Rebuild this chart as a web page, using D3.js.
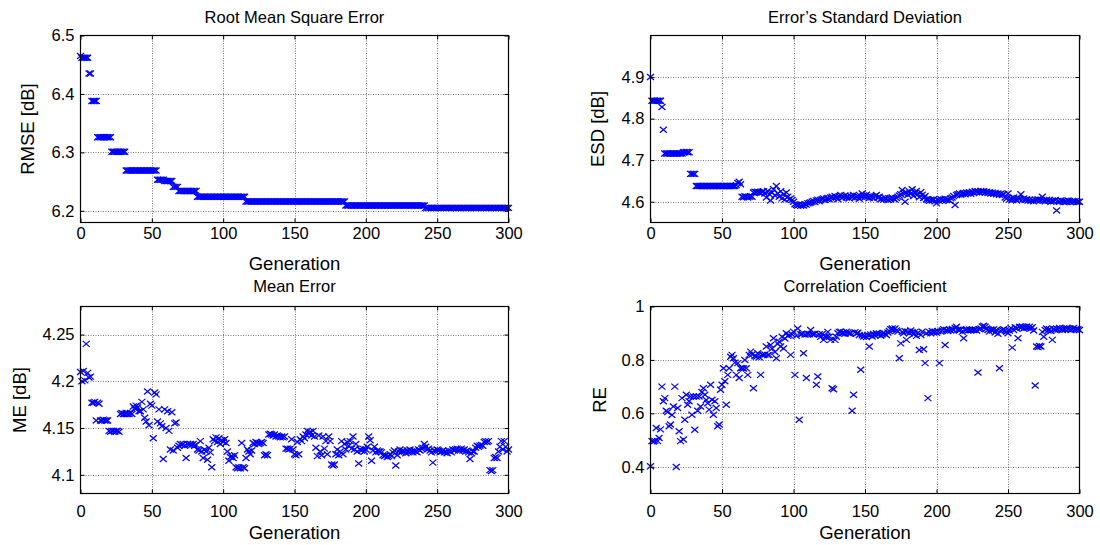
<!DOCTYPE html>
<html><head><meta charset="utf-8">
<script src="https://cdn.jsdelivr.net/npm/d3@7"></script>
<style>
body{margin:0;background:#fff;}
svg text{font-family:"Liberation Sans", Arial, Helvetica, sans-serif;fill:#000;}
</style></head><body>
<svg id="chart" width="1100" height="545"></svg>
<script>
// ---------------- data ----------------
const generations = d3.range(0, 301);
const xTicks = [0, 50, 100, 150, 200, 250, 300];
const rmseTicks = [6.2, 6.3, 6.4, 6.5];
const esdTicks = [4.6, 4.7, 4.8, 4.9];
const meTicks = [4.1, 4.15, 4.2, 4.25];
const reTicks = [0.4, 0.6, 0.8, 1];
const titles = ["Root Mean Square Error", "Error\u2019s Standard Deviation", "Mean Error", "Correlation Coefficient"];
const yLabels = ["RMSE [dB]", "ESD [dB]", "ME [dB]", "RE"];
const xLabel = "Generation";

const rmse = [
6.465,6.462,6.462,6.462,6.462,6.462,6.435,6.435,6.388,6.388,
6.388,6.388,6.326,6.326,6.326,6.326,6.326,6.326,6.326,6.326,
6.326,6.326,6.301,6.301,6.301,6.301,6.301,6.301,6.301,6.301,
6.301,6.301,6.269,6.269,6.269,6.269,6.269,6.269,6.269,6.269,
6.269,6.269,6.269,6.269,6.269,6.269,6.269,6.269,6.269,6.269,
6.269,6.269,6.269,6.269,6.253,6.253,6.253,6.253,6.253,6.251,
6.251,6.251,6.251,6.251,6.251,6.241,6.241,6.241,6.241,6.234,
6.234,6.234,6.234,6.234,6.234,6.234,6.234,6.234,6.234,6.234,
6.234,6.234,6.224,6.224,6.224,6.224,6.224,6.224,6.224,6.224,
6.224,6.224,6.224,6.224,6.224,6.224,6.224,6.224,6.224,6.224,
6.224,6.224,6.224,6.224,6.224,6.224,6.224,6.224,6.224,6.224,
6.224,6.224,6.224,6.224,6.224,6.224,6.216,6.216,6.216,6.216,
6.216,6.216,6.216,6.216,6.216,6.216,6.216,6.216,6.216,6.216,
6.216,6.216,6.216,6.216,6.216,6.216,6.216,6.216,6.216,6.216,
6.216,6.216,6.216,6.216,6.216,6.216,6.216,6.216,6.216,6.216,
6.216,6.216,6.216,6.216,6.216,6.216,6.216,6.216,6.216,6.216,
6.216,6.216,6.216,6.216,6.216,6.216,6.216,6.216,6.216,6.216,
6.216,6.216,6.216,6.216,6.216,6.216,6.216,6.216,6.216,6.216,
6.216,6.216,6.216,6.216,6.216,6.216,6.209,6.209,6.209,6.209,
6.209,6.209,6.209,6.209,6.209,6.209,6.209,6.209,6.209,6.209,
6.209,6.209,6.209,6.209,6.209,6.209,6.209,6.209,6.209,6.209,
6.209,6.209,6.209,6.209,6.209,6.209,6.209,6.209,6.209,6.209,
6.209,6.209,6.209,6.209,6.209,6.209,6.209,6.209,6.209,6.209,
6.209,6.209,6.209,6.209,6.209,6.209,6.209,6.209,6.209,6.209,
6.209,6.209,6.205,6.205,6.205,6.205,6.205,6.205,6.205,6.205,
6.205,6.205,6.205,6.205,6.205,6.205,6.205,6.205,6.205,6.205,
6.205,6.205,6.205,6.205,6.205,6.205,6.205,6.205,6.205,6.205,
6.205,6.205,6.205,6.205,6.205,6.205,6.205,6.205,6.205,6.205,
6.205,6.205,6.205,6.205,6.205,6.205,6.205,6.205,6.205,6.205,
6.205,6.205,6.205,6.205,6.205,6.205,6.205,6.205,6.205,6.205,
6.205
];

const esd = [
4.900,4.843,4.843,4.843,4.843,4.843,4.843,4.843,4.828,4.773,
4.716,4.716,4.716,4.716,4.716,4.716,4.716,4.716,4.716,4.716,
4.716,4.716,4.716,4.719,4.719,4.720,4.719,4.719,4.667,4.667,
4.667,4.667,4.638,4.638,4.638,4.638,4.638,4.638,4.638,4.638,
4.638,4.638,4.638,4.638,4.638,4.638,4.638,4.638,4.638,4.638,
4.638,4.638,4.638,4.638,4.638,4.638,4.638,4.638,4.638,4.638,
4.640,4.645,4.648,4.642,4.612,4.611,4.613,4.612,4.610,4.612,
4.613,4.612,4.622,4.624,4.623,4.624,4.622,4.621,4.624,4.625,
4.620,4.610,4.626,4.618,4.603,4.622,4.630,4.615,4.638,4.620,
4.612,4.625,4.608,4.618,4.605,4.622,4.612,4.606,4.608,4.604,
4.600,4.594,4.592,4.591,4.593,4.590,4.592,4.591,4.594,4.593,
4.596,4.597,4.598,4.600,4.602,4.599,4.603,4.605,4.601,4.604,
4.606,4.608,4.604,4.607,4.609,4.606,4.610,4.612,4.608,4.614,
4.611,4.606,4.613,4.616,4.609,4.612,4.615,4.610,4.613,4.608,
4.614,4.611,4.616,4.609,4.612,4.614,4.607,4.613,4.620,4.615,
4.611,4.617,4.612,4.609,4.614,4.611,4.608,4.613,4.616,4.610,
4.612,4.606,4.608,4.605,4.609,4.607,4.604,4.608,4.606,4.610,
4.607,4.605,4.609,4.612,4.615,4.618,4.628,4.620,4.600,4.622,
4.616,4.625,4.619,4.630,4.614,4.621,4.626,4.618,4.611,4.623,
4.617,4.609,4.614,4.606,4.604,4.602,4.605,4.603,4.606,4.601,
4.596,4.604,4.602,4.606,4.603,4.605,4.607,4.604,4.606,4.603,
4.608,4.610,4.614,4.592,4.616,4.618,4.620,4.617,4.619,4.621,
4.618,4.622,4.620,4.623,4.619,4.624,4.621,4.626,4.623,4.625,
4.622,4.626,4.624,4.625,4.622,4.624,4.621,4.623,4.620,4.622,
4.619,4.621,4.618,4.620,4.617,4.619,4.616,4.618,4.610,4.607,
4.620,4.605,4.608,4.604,4.610,4.606,4.603,4.609,4.606,4.618,
4.605,4.608,4.604,4.606,4.603,4.605,4.602,4.604,4.601,4.605,
4.603,4.606,4.602,4.604,4.612,4.603,4.601,4.605,4.602,4.604,
4.600,4.603,4.601,4.604,4.579,4.602,4.600,4.603,4.601,4.599,
4.602,4.600,4.603,4.601,4.599,4.602,4.600,4.601,4.599,4.600,
4.600
];

const me = [
4.210,4.200,4.211,4.201,4.240,4.209,4.204,4.205,4.177,4.177,
4.178,4.158,4.177,4.176,4.158,4.158,4.159,4.158,4.158,4.158,
4.147,4.146,4.147,4.147,4.146,4.147,4.147,4.146,4.165,4.166,
4.165,4.165,4.166,4.165,4.165,4.166,4.165,4.173,4.171,4.174,
4.172,4.168,4.168,4.178,4.170,4.161,4.157,4.189,4.153,4.176,
4.174,4.139,4.188,4.186,4.157,4.170,4.155,4.152,4.117,4.170,
4.150,4.168,4.147,4.127,4.167,4.126,4.155,4.156,4.129,4.131,
4.133,4.132,4.133,4.131,4.118,4.133,4.132,4.133,4.132,4.133,
4.131,4.132,4.127,4.126,4.136,4.125,4.118,4.127,4.125,4.116,
4.129,4.124,4.108,4.138,4.136,4.140,4.135,4.139,4.133,4.137,
4.135,4.138,4.134,4.125,4.115,4.119,4.120,4.118,4.121,4.108,
4.107,4.108,4.107,4.134,4.108,4.107,4.118,4.127,4.125,4.122,
4.126,4.134,4.133,4.135,4.134,4.133,4.134,4.135,4.134,4.121,
4.122,4.121,4.143,4.144,4.143,4.142,4.143,4.141,4.142,4.141,
4.140,4.141,4.140,4.141,4.128,4.128,4.127,4.128,4.138,4.127,
4.122,4.121,4.135,4.122,4.138,4.136,4.141,4.139,4.143,4.147,
4.144,4.146,4.142,4.147,4.141,4.129,4.120,4.142,4.125,4.121,
4.141,4.128,4.136,4.122,4.141,4.136,4.111,4.110,4.111,4.122,
4.127,4.121,4.125,4.136,4.122,4.133,4.127,4.135,4.131,4.136,
4.128,4.141,4.127,4.133,4.125,4.112,4.127,4.126,4.128,4.125,
4.127,4.130,4.141,4.137,4.115,4.126,4.130,4.124,4.126,4.125,
4.125,4.124,4.121,4.120,4.121,4.119,4.120,4.122,4.120,4.124,
4.126,4.110,4.121,4.125,4.127,4.124,4.126,4.125,4.123,4.126,
4.124,4.127,4.125,4.124,4.126,4.125,4.124,4.127,4.126,4.128,
4.129,4.133,4.130,4.127,4.128,4.126,4.124,4.113,4.126,4.125,
4.127,4.126,4.124,4.125,4.126,4.124,4.125,4.123,4.126,4.125,
4.124,4.127,4.126,4.127,4.128,4.126,4.127,4.128,4.126,4.127,
4.125,4.126,4.124,4.117,4.123,4.125,4.125,4.129,4.131,4.130,
4.131,4.132,4.131,4.135,4.136,4.135,4.136,4.105,4.104,4.105,
4.118,4.119,4.118,4.125,4.130,4.136,4.127,4.136,4.130,4.125,
4.127
];

const re = [
0.402,0.496,0.495,0.497,0.545,0.496,0.508,0.540,0.700,0.645,
0.657,0.610,0.605,0.552,0.558,0.594,0.626,0.700,0.399,0.620,
0.533,0.496,0.657,0.502,0.576,0.670,0.632,0.645,0.663,0.595,
0.663,0.539,0.663,0.610,0.663,0.626,0.680,0.694,0.670,0.650,
0.638,0.614,0.707,0.651,0.595,0.645,0.620,0.552,0.558,0.688,
0.707,0.769,0.720,0.632,0.744,0.769,0.812,0.819,0.806,0.790,
0.744,0.788,0.732,0.769,0.770,0.768,0.800,0.769,0.744,0.819,
0.831,0.820,0.694,0.815,0.812,0.825,0.810,0.744,0.819,0.818,
0.820,0.850,0.818,0.819,0.856,0.843,0.881,0.830,0.806,0.860,
0.868,0.850,0.887,0.843,0.880,0.900,0.890,0.893,0.819,0.895,
0.906,0.744,0.890,0.918,0.576,0.896,0.897,0.825,0.895,0.732,
0.898,0.896,0.912,0.897,0.895,0.898,0.707,0.738,0.896,0.887,
0.897,0.875,0.888,0.886,0.905,0.887,0.875,0.694,0.690,0.875,
0.887,0.900,0.905,0.906,0.900,0.903,0.898,0.906,0.902,0.899,
0.900,0.610,0.670,0.904,0.898,0.902,0.893,0.763,0.892,0.888,
0.890,0.886,0.893,0.850,0.895,0.888,0.897,0.892,0.900,0.895,
0.898,0.890,0.896,0.901,0.897,0.893,0.903,0.908,0.915,0.918,
0.912,0.918,0.910,0.906,0.806,0.862,0.905,0.900,0.908,0.875,
0.906,0.900,0.910,0.904,0.896,0.905,0.890,0.902,0.837,0.893,
0.906,0.840,0.788,0.900,0.657,0.905,0.900,0.908,0.903,0.906,
0.902,0.907,0.788,0.906,0.910,0.915,0.856,0.912,0.908,0.914,
0.910,0.916,0.912,0.920,0.924,0.913,0.910,0.915,0.905,0.881,
0.912,0.914,0.910,0.913,0.911,0.914,0.912,0.913,0.910,0.753,
0.915,0.918,0.925,0.928,0.924,0.918,0.912,0.906,0.914,0.910,
0.915,0.903,0.912,0.898,0.769,0.908,0.912,0.915,0.910,0.905,
0.900,0.910,0.920,0.846,0.912,0.922,0.918,0.881,0.924,0.920,
0.925,0.918,0.922,0.925,0.920,0.924,0.918,0.922,0.910,0.704,
0.850,0.848,0.852,0.850,0.905,0.887,0.912,0.918,0.910,0.915,
0.908,0.875,0.916,0.912,0.918,0.914,0.920,0.916,0.912,0.918,
0.914,0.920,0.915,0.918,0.912,0.916,0.920,0.914,0.917,0.915,
0.912
];

// ---------------- layout ----------------
const layout = [
  {x0:80.5,  x1:508.5,  y0:35.5,  y1:222.5, yDomain:[6.18, 6.5],  titleY:23,  xTickPad:5,  xLabelY:270, yLabelX:34},
  {x0:650.5, x1:1079.5, y0:35.5,  y1:222.5, yDomain:[4.55, 5.0],  titleY:23,  xTickPad:5,  xLabelY:270, yLabelX:604},
  {x0:80.5,  x1:508.5,  y0:306.5, y1:493.5, yDomain:[4.08, 4.28], titleY:292, xTickPad:12, xLabelY:539, yLabelX:26},
  {x0:650.5, x1:1079.5, y0:306.5, y1:493.5, yDomain:[0.3, 1.0],   titleY:292, xTickPad:12, xLabelY:539, yLabelX:606}
];
const FONT = "'Liberation Sans', Arial, Helvetica, sans-serif";
const svg = d3.select("#chart");

function drawPanel(i, values, yTicks) {
  const L = layout[i];
  const g = svg.append("g");
  const x = d3.scaleLinear().domain([0, 300]).range([L.x0, L.x1]);
  const y = d3.scaleLinear().domain(L.yDomain).range([L.y1, L.y0]);

  // grid
  const grid = g.append("g").attr("stroke", "#7a7a7a").attr("stroke-width", 1).attr("stroke-dasharray", "1,1.5");
  grid.selectAll("line.gx").data(xTicks.filter(t => t > 0 && t < 300)).join("line")
    .attr("x1", d => Math.round(x(d)) + 0.5).attr("x2", d => Math.round(x(d)) + 0.5)
    .attr("y1", L.y0).attr("y2", L.y1);
  grid.selectAll("line.gy").data(yTicks.filter(t => y(t) > L.y0 + 1)).join("line")
    .attr("y1", d => Math.round(y(d)) + 0.5).attr("y2", d => Math.round(y(d)) + 0.5)
    .attr("x1", L.x0).attr("x2", L.x1);

  // markers
  g.append("g").attr("stroke", "#0000ff").attr("stroke-width", 1.25).attr("fill", "none")
    .selectAll("path").data(values).join("path")
    .attr("transform", (d, k) => `translate(${x(generations[k])},${y(d)})`)
    .attr("d", "M-3.5,-3L3.5,3M-3.5,3L3.5,-3");

  // axes (ticks pointing inward, MATLAB style)
  const style = sel => {
    sel.select(".domain").remove();
    sel.selectAll(".tick line").attr("stroke", "#000");
    sel.selectAll("text").attr("font-family", FONT).attr("font-size", "16.5px").attr("fill", "#000");
    sel.attr("font-family", FONT);
  };
  g.append("g").attr("transform", `translate(0,${L.y1})`)
    .call(d3.axisBottom(x).tickValues(xTicks).tickSizeInner(-4).tickSizeOuter(0).tickPadding(L.xTickPad).tickFormat(d3.format("d")))
    .call(style);
  g.append("g").attr("transform", `translate(0,${L.y0})`)
    .call(d3.axisTop(x).tickValues(xTicks).tickSizeInner(-4).tickSizeOuter(0).tickFormat(""))
    .call(style);
  g.append("g").attr("transform", `translate(${L.x0},0)`)
    .call(d3.axisLeft(y).tickValues(yTicks).tickSizeInner(-4).tickSizeOuter(0).tickPadding(6).tickFormat(d => String(d)))
    .call(style);
  g.append("g").attr("transform", `translate(${L.x1},0)`)
    .call(d3.axisRight(y).tickValues(yTicks).tickSizeInner(-4).tickSizeOuter(0).tickFormat(""))
    .call(style);

  // box
  g.append("rect").attr("x", L.x0).attr("y", L.y0).attr("width", L.x1 - L.x0).attr("height", L.y1 - L.y0)
    .attr("fill", "none").attr("stroke", "#000").attr("stroke-width", 1.2);

  // texts
  g.append("text").attr("x", (L.x0 + L.x1) / 2).attr("y", L.titleY).attr("text-anchor", "middle")
    .attr("font-size", "16.5px").text(titles[i]);
  g.append("text").attr("x", (L.x0 + L.x1) / 2).attr("y", L.xLabelY).attr("text-anchor", "middle")
    .attr("font-size", "18.5px").text(xLabel);
  g.append("text").attr("transform", `translate(${L.yLabelX},${(L.y0 + L.y1) / 2}) rotate(-90)`)
    .attr("text-anchor", "middle").attr("font-size", "18.5px").text(yLabels[i]);
}

drawPanel(0, rmse, rmseTicks);
drawPanel(1, esd, esdTicks);
drawPanel(2, me, meTicks);
drawPanel(3, re, reTicks);
</script>
</body></html>
